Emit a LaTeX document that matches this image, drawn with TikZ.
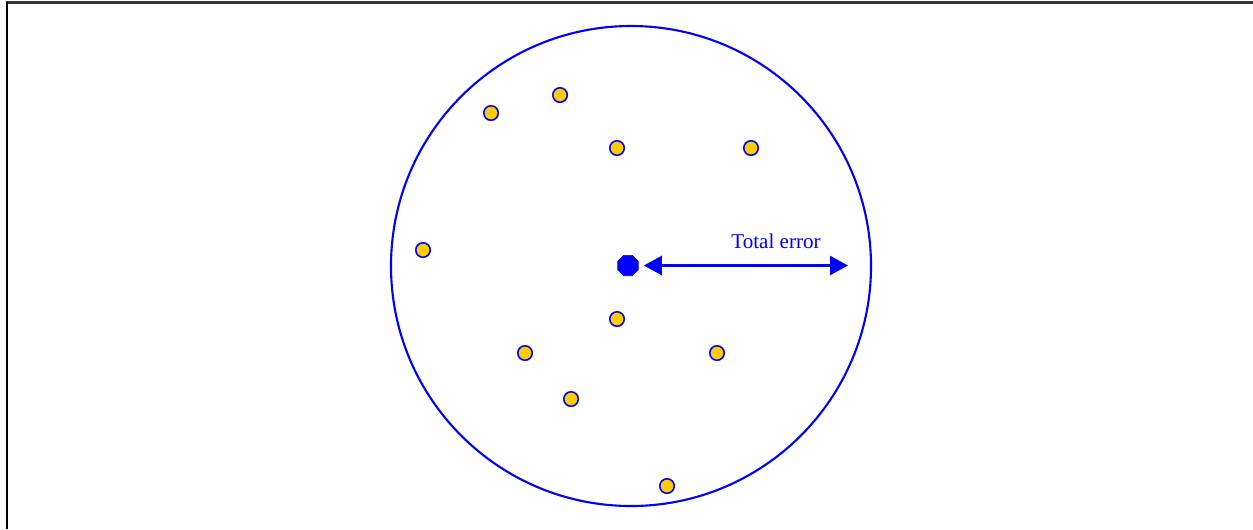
\documentclass[tikz,border=0pt]{standalone}
\usepackage{fontspec}
\setmainfont{Liberation Serif}
\usepackage{tikz}
\usetikzlibrary{arrows.meta,shapes.geometric}
\definecolor{errblue}{RGB}{0,0,255}
\definecolor{shotgold}{RGB}{255,204,0}
\tikzset{
  % frame lines along the top and left edge
  frameln/.style={line width=1.7pt},
  % the ring holding every shot
  ringln/.style={line width=1.2pt, errblue},
  % single shots
  shotdot/.style={circle, draw=errblue, fill=shotgold, line width=0.9pt,
    minimum size=0.29cm, inner sep=0pt},
  % the mean of all shots
  meandot/.style={regular polygon, regular polygon sides=8, draw=errblue,
    fill=errblue, minimum size=0.44cm, inner sep=0pt},
  % the error span
  errarrow/.style={{Triangle[length=0.36cm,width=0.38cm]}-{Triangle[length=0.36cm,width=0.38cm]},
    line width=1.4pt, errblue},
}

\begin{document}
\begin{tikzpicture}[x=0.02cm, y=-0.02cm]
    \useasboundingbox (0,0) rectangle (1253,529);
    % frame
    \draw[frameln, black!80] (6,2) -- (1253,2);
    \draw[frameln] (7,2) -- (7,529);
    % ring
    \draw[ringln] (631,266) circle (240);
    % shots
    \foreach \i/\px/\py in {1/491/113, 2/560/95, 3/617/148, 4/751/148,
      5/423/250, 6/617/319, 7/525/353, 8/717/353, 9/571/399, 10/667/486}
      \node[shotdot] (shot\i) at (\px,\py) {};
    % mean and total error
    \node[meandot] (mean) at (628,265.5) {};
    \coordinate (errend) at (848,265.5);
    \draw[errarrow, shorten <=3pt] (mean) -- (errend);
    \node[errblue, font=\fontsize{12}{14}\selectfont] (errlabel) at (776,241) {Total error};
\end{tikzpicture}
\end{document}
